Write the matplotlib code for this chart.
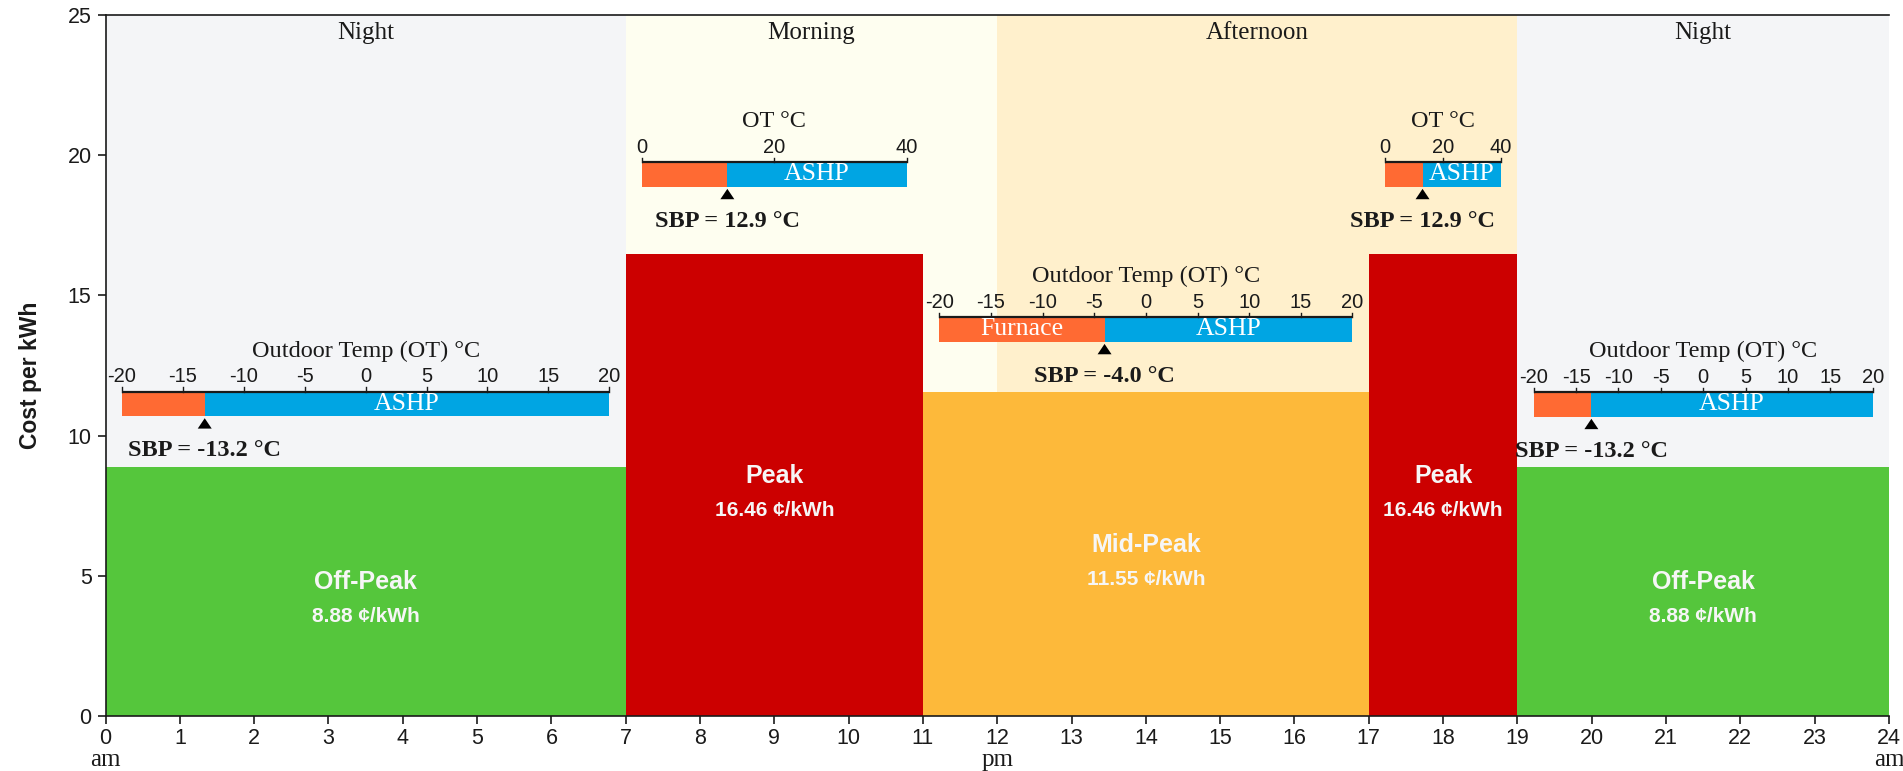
import matplotlib
matplotlib.use("Agg")
import matplotlib.pyplot as plt
from matplotlib.patches import Rectangle, Polygon
from matplotlib.transforms import blended_transform_factory

# ---- Time-of-use electricity rate periods (hour of day) ----
period_starts = [0, 7, 11, 17, 19]
period_ends = [7, 11, 17, 19, 24]
period_names = ["Off-Peak", "Peak", "Mid-Peak", "Peak", "Off-Peak"]
period_rates = [8.88, 16.46, 11.55, 16.46, 8.88]

# ---- Parts of the day shaded in the background ----
daypart_starts = [0, 7, 12, 19]
daypart_ends = [7, 12, 19, 24]
daypart_names = ["Night", "Morning", "Afternoon", "Night"]

# ---- Switchover balance point (furnace -> ASHP) for each rate period ----
sbp_values = [-13.2, 12.9, -4.0, 12.9, -13.2]
ot_min = [-20, 0, -20, 0, -20]
ot_max = [20, 40, 20, 40, 20]
ot_step = [5, 20, 5, 20, 5]
ot_titles = ["Outdoor Temp (OT) °C", "OT °C", "Outdoor Temp (OT) °C",
             "OT °C", "Outdoor Temp (OT) °C"]
low_side_labels = ["", "", "Furnace", "", ""]
high_side_label = "ASHP"

hour_ticks = list(range(0, 25))
cost_ticks = [0, 5, 10, 15, 20, 25]

# ---- Styling ----
SERIF = "Liberation Serif"
SANS = "Liberation Sans"
rate_colors = {"Off-Peak": "#55c63c", "Peak": "#cc0000", "Mid-Peak": "#fdb93a"}
daypart_colors = {"Night": "#f4f5f7", "Morning": "#fefef0", "Afternoon": "#fff0cc"}
furnace_color = "#ff6a33"
ashp_color = "#00a5e3"
label_white = "#f6f6f6"
ink = "#1a1a1a"

# vertical placement of each temperature gauge (cost axis units)
gauge_y = [11.57, 19.75, 14.22, 19.75, 11.55]
gauge_margin = 0.22
gauge_bar_h = 0.87

fig = plt.figure(figsize=(19.03, 7.71), dpi=100)
ax = fig.add_axes([0.05544, 0.07134, 0.99264 - 0.05544, 0.98054 - 0.07134])
ax.set_xlim(0, 24)
ax.set_ylim(0, 25)

# background shading for parts of the day
for s, e, name in zip(daypart_starts, daypart_ends, daypart_names):
    ax.axvspan(s, e, color=daypart_colors[name], zorder=0, lw=0)
    ax.text((s + e) / 2, 24.35, name, ha="center", va="center",
            family=SERIF, fontsize=18, color=ink, zorder=2)

# rate bars
widths = [e - s for s, e in zip(period_starts, period_ends)]
ax.bar(period_starts, period_rates, width=widths, align="edge",
       color=[rate_colors[n] for n in period_names], lw=0, zorder=1)

for s, e, name, rate in zip(period_starts, period_ends, period_names, period_rates):
    mid = (s + e) / 2
    ax.text(mid, rate / 2 + 0.34, name, ha="center", va="center",
            family=SANS, fontweight="bold", fontsize=18, color=label_white, zorder=3)
    ax.text(mid, rate / 2 - 0.9, f"{rate:.2f} ¢/kWh", ha="center", va="center",
            family=SANS, fontweight="bold", fontsize=15, color=label_white, zorder=3)

# temperature gauges with the switchover balance point
for i in range(len(period_starts)):
    x0 = period_starts[i] + gauge_margin
    x1 = period_ends[i] - gauge_margin
    tmin, tmax = ot_min[i], ot_max[i]
    gy = gauge_y[i]

    def tx(t, x0=x0, x1=x1, tmin=tmin, tmax=tmax):
        return x0 + (t - tmin) / (tmax - tmin) * (x1 - x0)

    xs = tx(sbp_values[i])
    ax.add_patch(Rectangle((x0, gy - gauge_bar_h), xs - x0, gauge_bar_h,
                           facecolor=furnace_color, lw=0, zorder=4))
    ax.add_patch(Rectangle((xs, gy - gauge_bar_h), x1 - xs, gauge_bar_h,
                           facecolor=ashp_color, lw=0, zorder=4))
    ax.plot([x0, x1], [gy, gy], color=ink, lw=1.6, zorder=5,
            solid_capstyle="butt")
    for t in range(tmin, tmax + 1, ot_step[i]):
        xt = tx(t)
        ax.plot([xt, xt], [gy, gy + 0.15], color=ink, lw=1.0, zorder=5)
        ax.text(xt, gy + 0.52, f"{t}", ha="center", va="center",
                family=SANS, fontsize=14.5, color=ink, zorder=5)
    ax.text((x0 + x1) / 2, gy + 1.45, ot_titles[i], ha="center", va="center",
            family=SERIF, fontsize=17.5, color=ink, zorder=5)
    ax.text((xs + x1) / 2, gy - gauge_bar_h / 2, high_side_label, ha="center",
            va="center", family=SERIF, fontsize=18.5, color="white", zorder=6)
    if low_side_labels[i]:
        ax.text((x0 + xs) / 2, gy - gauge_bar_h / 2, low_side_labels[i],
                ha="center", va="center", family=SERIF, fontsize=18.5,
                color="white", zorder=6)
    hw = 0.094
    ax.add_patch(Polygon([(xs, gy - 0.95), (xs - hw, gy - 1.32), (xs + hw, gy - 1.32)],
                         closed=True, facecolor="black", lw=0, zorder=6))
    ax.text(xs, gy - 2.1, f"SBP = {sbp_values[i]:.1f} °C", ha="center",
            va="center", family=SERIF, fontweight="bold", fontsize=17.5,
            color=ink, zorder=6)

# axes, ticks and labels
ax.set_xticks(hour_ticks)
ax.set_xticklabels([str(h) for h in hour_ticks])
ax.set_yticks(cost_ticks)
for lab in ax.get_xticklabels() + ax.get_yticklabels():
    lab.set_family(SANS)
    lab.set_fontsize(15.5)
    lab.set_color(ink)
ax.tick_params(axis="x", length=6, width=1.2, pad=3, color=ink)
ax.tick_params(axis="y", length=6, width=1.2, pad=4, color=ink)
for side in ("left", "bottom", "top"):
    ax.spines[side].set_linewidth(1.2)
    ax.spines[side].set_color(ink)
    ax.spines[side].set_zorder(7)
ax.spines["right"].set_visible(False)

trans = blended_transform_factory(ax.transData, ax.transAxes)
for h, txt in zip([0, 12, 24], ["am", "pm", "am"]):
    ax.text(h, -0.063, txt, transform=trans, ha="center", va="center",
            family=SERIF, fontsize=18, color=ink, clip_on=False)

ax.text(-0.0423, 0.486, "Cost per kWh", transform=ax.transAxes, rotation=90,
        ha="center", va="center", family=SANS, fontweight="bold", fontsize=16.5,
        color=ink)

fig.savefig("out.png", dpi=100)
